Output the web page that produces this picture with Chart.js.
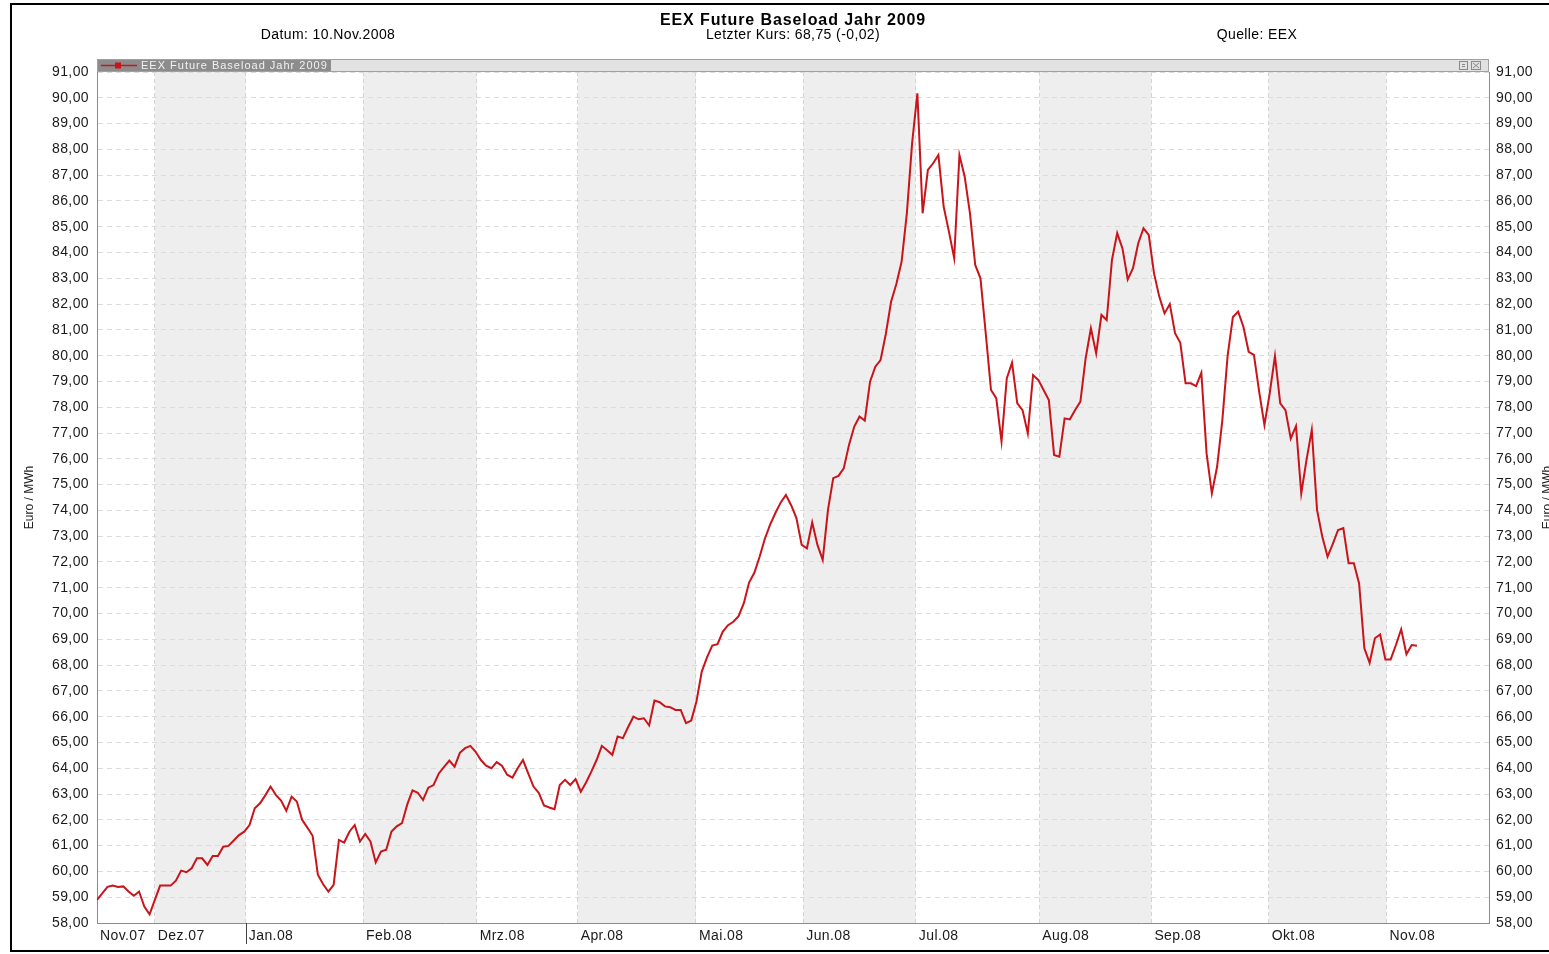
<!DOCTYPE html>
<html>
<head>
<meta charset="utf-8">
<script src="https://cdn.jsdelivr.net/npm/chart.js@4.4.1/dist/chart.umd.min.js"></script>
<style>
	html, body {margin:0; padding:0; background:#fff; overflow:hidden}
	#wrap {position:relative; width:1549px; height:954px; font-family:Arial, "Liberation Sans", sans-serif; overflow:hidden}
	#frame {position:absolute; left:10px; top:3px; width:1600px; height:949px; border:2px solid #000; box-sizing:border-box; pointer-events:none}
	canvas {position:absolute; left:0; top:0}
	.t {position:absolute; white-space:nowrap; transform:translateX(-50%); color:#000; line-height:1}
</style>
</head>
<body>
<div id="wrap">
	<canvas id="chart" width="1549" height="954"></canvas>
	<div class="t" style="left:793px;top:12px;font-size:16px;font-weight:bold;letter-spacing:0.9px">EEX Future Baseload Jahr 2009</div>
	<div class="t" style="left:328px;top:27px;font-size:14px;letter-spacing:0.4px">Datum: 10.Nov.2008</div>
	<div class="t" style="left:793px;top:27px;font-size:14px;letter-spacing:0.4px">Letzter Kurs: 68,75 (-0,02)</div>
	<div class="t" style="left:1257px;top:27px;font-size:14px;letter-spacing:0.4px">Quelle: EEX</div>
	<div id="frame"></div>
</div>
<script>
// trading day index -> settlement price, Euro/MWh
const prices = [
	58.90, 59.15, 59.40, 59.45, 59.40, 59.42, 59.22, 59.06, 59.22, 58.64,
	58.34, 58.90, 59.45, 59.45, 59.45, 59.64, 60.03, 59.97, 60.12, 60.51,
	60.51, 60.25, 60.60, 60.60, 60.96, 60.99, 61.20, 61.41, 61.54, 61.80,
	62.45, 62.64, 62.95, 63.29, 62.97, 62.75, 62.35, 62.90, 62.71, 62.00,
	61.70, 61.38, 59.87, 59.50, 59.22, 59.48, 61.22, 61.12, 61.54, 61.80,
	61.16, 61.45, 61.16, 60.35, 60.77, 60.84, 61.55, 61.75, 61.87, 62.60,
	63.14, 63.05, 62.77, 63.25, 63.35, 63.80, 64.05, 64.30, 64.06, 64.60,
	64.78, 64.87, 64.64, 64.32, 64.10, 64.00, 64.24, 64.10, 63.75, 63.64,
	64.00, 64.32, 63.80, 63.29, 63.05, 62.56, 62.48, 62.41, 63.35, 63.55,
	63.35, 63.58, 63.09, 63.45, 63.87, 64.32, 64.87, 64.70, 64.52, 65.23,
	65.17, 65.60, 66.00, 65.90, 65.94, 65.66, 66.63, 66.56, 66.40, 66.37,
	66.26, 66.26, 65.75, 65.85, 66.60, 67.75, 68.30, 68.76, 68.81, 69.30,
	69.55, 69.68, 69.90, 70.40, 71.20, 71.58, 72.20, 72.90, 73.45, 73.90,
	74.30, 74.60, 74.20, 73.70, 72.66, 72.53, 73.53, 72.66, 72.08, 74.02,
	75.25, 75.34, 75.63, 76.54, 77.25, 77.64, 77.48, 78.99, 79.57, 79.83,
	80.84, 82.09, 82.78, 83.64, 85.52, 88.24, 90.17, 85.52, 87.20, 87.46,
	87.78, 85.78, 84.81, 83.78, 87.78, 86.94, 85.52, 83.52, 83.00, 80.87,
	78.67, 78.35, 76.67, 79.12, 79.73, 78.15, 77.89, 76.99, 79.25, 79.06,
	78.67, 78.28, 76.15, 76.08, 77.57, 77.53, 77.89, 78.22, 79.90, 81.06,
	80.09, 81.58, 81.38, 83.71, 84.75, 84.16, 82.96, 83.39, 84.36, 84.94,
	84.68, 83.19, 82.29, 81.64, 82.00, 80.87, 80.50, 78.93, 78.93, 78.82,
	79.34, 76.20, 74.66, 75.70, 77.51, 80.00, 81.50, 81.71, 81.12, 80.15,
	80.03, 78.60, 77.31, 78.54, 79.99, 78.15, 77.89, 76.79, 77.27, 74.66,
	75.96, 77.12, 74.02, 72.98, 72.21, 72.70, 73.24, 73.31, 71.95, 71.95,
	71.17, 68.65, 68.09, 69.04, 69.19, 68.22, 68.22, 68.78, 69.39, 68.42,
	68.78, 68.75
]

// month boundaries on the trading day axis
const monthStarts = [0, 11, 28.3, 50.6, 72.2, 91.4, 113.9, 134.3, 155.7, 179.2, 200.5, 222.8, 245.2]
const monthLabels = ['Nov.07', 'Dez.07', 'Jan.08', 'Feb.08', 'Mrz.08', 'Apr.08', 'Mai.08', 'Jun.08', 'Jul.08', 'Aug.08', 'Sep.08', 'Okt.08', 'Nov.08']
const xMax = 264.7
const yMin = 58
const yMax = 91
const seriesName = 'EEX Future Baseload Jahr 2009'
const axisTitle = 'Euro / MWh'

const red = '#c8141a'
const fontFamily = 'Arial, "Liberation Sans", sans-serif'
const fmt = v => v.toFixed(2).replace('.', ',')

const bands = {
	id: 'bands',
	beforeDraw(chart) {
		const {ctx, chartArea: a, scales: {x}} = chart
		ctx.save()
		ctx.fillStyle = '#fff'
		ctx.fillRect(0, 0, chart.width, chart.height)
		ctx.fillStyle = '#eeeeee'
		for (let i = 1; i < monthStarts.length - 1; i += 2) {
			const x0 = x.getPixelForValue(monthStarts[i])
			const x1 = x.getPixelForValue(monthStarts[i + 1])
			ctx.fillRect(x0, a.top, x1 - x0, a.bottom - a.top)
		}
		ctx.restore()
		// tick labels are a bit spaced out in the original
		ctx.letterSpacing = '0.4px'
	}
}

const decor = {
	id: 'decor',
	afterDraw(chart) {
		const {ctx, chartArea: a, scales: {x}} = chart
		ctx.letterSpacing = '0px'
		ctx.save()

		// series header bar
		const top = a.top - 13
		ctx.fillStyle = '#e2e2e2'
		ctx.fillRect(a.left, top, a.right - a.left, 13)
		ctx.strokeStyle = '#a0a0a0'
		ctx.lineWidth = 1
		ctx.strokeRect(a.left + 0.5, top + 0.5, a.right - a.left - 1, 12)
		ctx.fillStyle = '#8c8c8c'
		ctx.fillRect(a.left + 1, top + 1, 233, 11)
		ctx.strokeStyle = red
		ctx.lineWidth = 1.5
		ctx.beginPath()
		ctx.moveTo(a.left + 4, top + 6.5)
		ctx.lineTo(a.left + 40, top + 6.5)
		ctx.stroke()
		ctx.fillStyle = red
		ctx.fillRect(a.left + 18, top + 3.5, 6, 6)
		ctx.fillStyle = '#f2f2f2'
		ctx.font = '11px ' + fontFamily
		ctx.letterSpacing = '1px'
		ctx.textBaseline = 'middle'
		ctx.textAlign = 'left'
		ctx.fillText(seriesName, a.left + 44, top + 7)
		ctx.letterSpacing = '0px'
		// little window icons
		ctx.strokeStyle = '#8a8a8a'
		ctx.lineWidth = 1
		ctx.strokeRect(a.right - 29.5, top + 2.5, 8, 8)
		ctx.strokeRect(a.right - 17.5, top + 2.5, 9, 8)
		ctx.beginPath()
		ctx.moveTo(a.right - 27, top + 5.5); ctx.lineTo(a.right - 24, top + 5.5)
		ctx.moveTo(a.right - 27, top + 7.5); ctx.lineTo(a.right - 24, top + 7.5)
		ctx.moveTo(a.right - 16, top + 4); ctx.lineTo(a.right - 10, top + 9)
		ctx.moveTo(a.right - 10, top + 4); ctx.lineTo(a.right - 16, top + 9)
		ctx.stroke()

		// year change mark under Jan.08
		const jx = Math.round(x.getPixelForValue(monthStarts[2])) + 0.5
		ctx.strokeStyle = '#444'
		ctx.beginPath()
		ctx.moveTo(jx, a.bottom)
		ctx.lineTo(jx, a.bottom + 21)
		ctx.stroke()

		// axis titles
		ctx.fillStyle = '#222'
		ctx.font = '12px ' + fontFamily
		ctx.textAlign = 'center'
		const midY = (a.top + a.bottom) / 2
		for (const cx of [30, 1548]) {
			ctx.save()
			ctx.translate(cx, midY)
			ctx.rotate(-Math.PI / 2)
			ctx.fillText(axisTitle, 0, 0)
			ctx.restore()
		}
		ctx.restore()
	}
}

const yTickOpts = pad => ({
	stepSize: 1,
	padding: pad,
	color: '#1a1a1a',
	font: {family: fontFamily, size: 14},
	callback: v => fmt(v)
})

new Chart(document.getElementById('chart'), {
	type: 'line',
	data: {
		datasets: [{
			label: seriesName,
			data: prices.map((v, i) => ({x: i, y: v})),
			borderColor: red,
			borderWidth: 2,
			pointRadius: 0,
			tension: 0
		}]
	},
	options: {
		responsive: false,
		animation: false,
		layout: {padding: {top: 72, left: 0, right: 0, bottom: 0}},
		plugins: {legend: {display: false}, tooltip: {enabled: false}},
		scales: {
			x: {
				type: 'linear',
				min: 0,
				max: xMax,
				afterBuildTicks: s => { s.ticks = monthStarts.map(v => ({value: v})) },
				afterFit: s => { s.height = 31 },
				ticks: {
					autoSkip: false,
					maxRotation: 0,
					align: 'start',
					labelOffset: 3,
					padding: 5,
					color: '#1a1a1a',
					font: {family: fontFamily, size: 14},
					callback: (v, i) => monthLabels[i]
				},
				grid: {color: '#d4d4d4', drawTicks: false},
				border: {display: true, color: '#8c8c8c', dash: [4, 3]}
			},
			y: {
				position: 'left',
				min: yMin,
				max: yMax,
				afterFit: s => { s.width = 97 },
				ticks: yTickOpts(8),
				grid: {color: '#dcdcdc', drawTicks: false},
				border: {display: true, color: '#8c8c8c', dash: [5, 4]}
			},
			y2: {
				position: 'right',
				min: yMin,
				max: yMax,
				afterFit: s => { s.width = 60 },
				ticks: yTickOpts(7),
				grid: {display: false, drawTicks: false},
				border: {display: true, color: '#8c8c8c'}
			}
		}
	},
	plugins: [bands, decor]
})
</script>
</body>
</html>
